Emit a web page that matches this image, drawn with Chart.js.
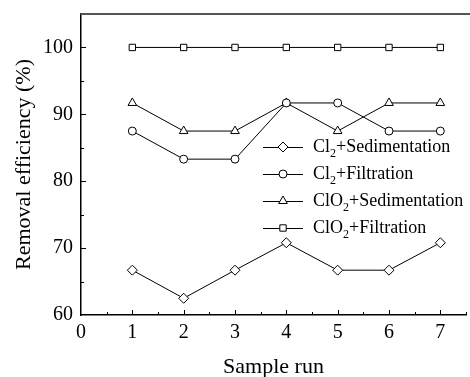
<!doctype html>
<html lang="en">
  <head>
    <meta charset="utf-8">
    <script src="https://cdn.jsdelivr.net/npm/chart.js@4/dist/chart.umd.min.js"></script>
    <title>Removal efficiency</title>
    <style>
      * { margin: 0; padding: 0; }
      body { background: white; width: 470px; height: 377px; overflow: hidden; }
      .chartBox { width: 472px; height: 380px; }
    </style>
  </head>
  <body>
    <div class="chartBox">
      <canvas id="myChart"></canvas>
    </div>
    <script>
    // sample runs and removal efficiency (%) per treatment
    const runs = [1, 2, 3, 4, 5, 6, 7];
    const cl2Sed = [66.7, 62.5, 66.7, 70.8, 66.7, 66.7, 70.8];
    const cl2Filt = [87.5, 83.3, 83.3, 91.7, 91.7, 87.5, 87.5];
    const clo2Sed = [91.7, 87.5, 87.5, 91.7, 87.5, 91.7, 91.7];
    const clo2Filt = [100, 100, 100, 100, 100, 100, 100];
    const xTicks = [0, 1, 2, 3, 4, 5, 6, 7];
    const yTicks = [60, 70, 80, 90, 100];

    // legend labels: [main, subscript, rest]
    const legendParts = [
      ['Cl', '2', '+Sedimentation'],
      ['Cl', '2', '+Filtration'],
      ['ClO', '2', '+Sedimentation'],
      ['ClO', '2', '+Filtration']
    ];

    const FONT = '"Liberation Serif", "Times New Roman", serif';

    function pts(vals) {
      return runs.map((r, i) => ({ x: r, y: vals[i] }));
    }

    function ds(label, vals, style, radius) {
      return {
        label: label,
        data: pts(vals),
        borderColor: '#000',
        borderWidth: 1,
        backgroundColor: '#fff',
        pointStyle: style,
        pointRadius: radius,
        pointBorderWidth: 1,
        pointBackgroundColor: '#fff',
        pointBorderColor: '#000',
        tension: 0
      };
    }

    const datasets = [
      ds('Cl2+Sedimentation', cl2Sed, 'rectRot', 5),
      ds('Cl2+Filtration', cl2Filt, 'circle', 4),
      ds('ClO2+Sedimentation', clo2Sed, 'triangle', 5),
      ds('ClO2+Filtration', clo2Filt, 'rect', 4.5)
    ];

    // inward tick marks, top frame line and the in-plot legend
    const decor = {
      id: 'decor',
      afterDraw(chart) {
        const ctx = chart.ctx;
        const a = chart.chartArea;
        const xs = chart.scales.x, ys = chart.scales.y;
        ctx.save();
        ctx.strokeStyle = '#000';
        ctx.lineWidth = 1;
        for (let v = 0.5; v <= 7.5; v += 0.5) {
          const px = Math.round(xs.getPixelForValue(v)) + 0.5;
          const len = Number.isInteger(v) ? 5 : 3;
          ctx.beginPath();
          ctx.moveTo(px, a.bottom);
          ctx.lineTo(px, a.bottom - len);
          ctx.stroke();
        }
        for (let v = 65; v <= 100; v += 5) {
          const py = Math.round(ys.getPixelForValue(v)) + 0.5;
          const len = v % 10 === 0 ? 5 : 3;
          ctx.beginPath();
          ctx.moveTo(a.left, py);
          ctx.lineTo(a.left + len, py);
          ctx.stroke();
        }
        // top frame
        ctx.strokeStyle = '#555';
        ctx.lineWidth = 2;
        ctx.beginPath();
        ctx.moveTo(a.left - 0.5, a.top);
        ctx.lineTo(a.right + 5, a.top);
        ctx.stroke();

        // legend
        const lx = 263, rowY = [147, 174, 201, 228];
        ctx.textBaseline = 'middle';
        ctx.fillStyle = '#000';
        legendParts.forEach((p, i) => {
          const y = rowY[i];
          const d = datasets[i];
          ctx.strokeStyle = '#000';
          ctx.lineWidth = 1;
          ctx.beginPath();
          ctx.moveTo(lx, y + 0.5);
          ctx.lineTo(lx + 40, y + 0.5);
          ctx.stroke();
          ctx.fillStyle = '#fff';
          Chart.helpers.drawPoint(ctx, {
            pointStyle: d.pointStyle,
            radius: d.pointRadius,
            rotation: 0,
            borderWidth: 1
          }, lx + 20, y);
          ctx.fillStyle = '#000';
          let tx = lx + 50;
          ctx.font = '18px ' + FONT;
          ctx.fillText(p[0], tx, y);
          tx += ctx.measureText(p[0]).width;
          ctx.font = '12px ' + FONT;
          ctx.fillText(p[1], tx, y + 7);
          tx += ctx.measureText(p[1]).width;
          ctx.font = '18px ' + FONT;
          ctx.fillText(p[2], tx, y);
        });
        ctx.restore();
      }
    };

    new Chart(document.getElementById('myChart'), {
      type: 'line',
      data: { datasets: datasets },
      options: {
        responsive: true,
        maintainAspectRatio: false,
        animation: false,
        layout: { padding: { top: 14, right: 0, left: 0, bottom: 0 } },
        plugins: {
          legend: { display: false },
          tooltip: { enabled: false }
        },
        scales: {
          x: {
            type: 'linear',
            min: 0,
            max: 7.5,
            afterBuildTicks(s) { s.ticks = xTicks.map(v => ({ value: v })); },
            afterFit(s) { s.height = 65; s.paddingLeft = 0; s.paddingRight = 0; },
            grid: { display: false, drawTicks: false },
            border: { display: true, color: '#000', width: 1.5 },
            ticks: {
              color: '#000',
              padding: 6,
              maxRotation: 0,
              font: { family: FONT, size: 20 }
            },
            title: {
              display: true,
              text: 'Sample run',
              color: '#000',
              padding: { top: 0, bottom: 0 },
              font: { family: FONT, size: 22 }
            }
          },
          y: {
            min: 60,
            max: 105,
            afterBuildTicks(s) { s.ticks = yTicks.map(v => ({ value: v })); },
            afterFit(s) { s.width = 81; s.paddingTop = 0; s.paddingBottom = 0; },
            grid: { display: false, drawTicks: false },
            border: { display: true, color: '#000', width: 1.5 },
            ticks: {
              color: '#000',
              padding: 8,
              font: { family: FONT, size: 20 }
            },
            title: {
              display: true,
              text: 'Removal efficiency (%)',
              color: '#000',
              padding: { top: 11, bottom: 0 },
              font: { family: FONT, size: 22 }
            }
          }
        }
      },
      plugins: [decor]
    });
    </script>
  </body>
</html>
